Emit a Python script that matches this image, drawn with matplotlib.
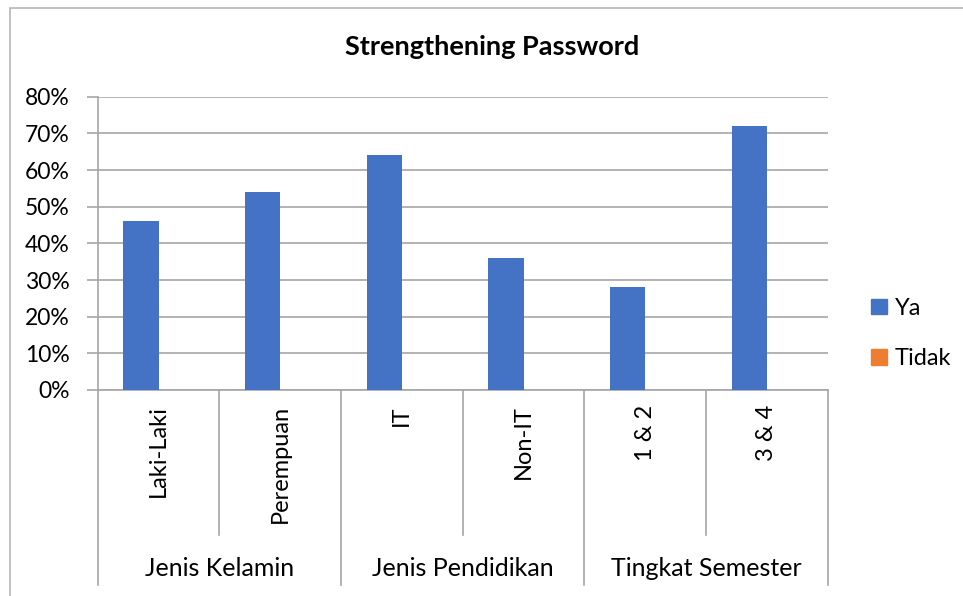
import matplotlib.pyplot as plt
import matplotlib.patches as mpatches
import numpy as np

plt.rcParams['font.family'] = ['Lato', 'DejaVu Sans']

title = 'Strengthening Password'
categories = ['Laki-Laki', 'Perempuan', 'IT', 'Non-IT', '1 & 2', '3 & 4']
groups = ['Jenis Kelamin', 'Jenis Pendidikan', 'Tingkat Semester']
group_sizes = [2, 2, 2]
ya = [0.46, 0.54, 0.64, 0.36, 0.28, 0.72]
tidak = [0, 0, 0, 0, 0, 0]
yticks = [0, 0.1, 0.2, 0.3, 0.4, 0.5, 0.6, 0.7, 0.8]

blue = '#4472C4'
orange = '#ED7D31'
grid_col = '#a6a6a6'

fig = plt.figure(figsize=(9.63, 5.96), dpi=100)
ax = fig.add_axes([97.7 / 963, 1 - 390 / 596, 730 / 963, 293.3 / 596])

# outer chart border (only left and top are visible in the crop)
fig.patches.append(mpatches.Rectangle((10 / 963, -0.05), 1.1, 1.05 - 8 / 596,
                                      transform=fig.transFigure, fill=False,
                                      edgecolor='#b5b5b5', linewidth=1.2))

x = np.arange(len(categories))
w = 0.29
ax.bar(x - w / 2, ya, w, color=blue, label='Ya', zorder=3)
ax.bar(x + w / 2, tidak, w, color=orange, label='Tidak', zorder=3)

ax.set_xlim(-0.5, len(categories) - 0.5)
ax.set_ylim(0, 0.8)
ax.set_yticks(yticks)
ax.set_yticklabels([f'{int(round(v * 100))}%' for v in yticks], fontsize=16.5)
ax.yaxis.grid(True, color=grid_col, linewidth=1.2, zorder=0)
ax.tick_params(axis='y', length=8, width=1.2, color=grid_col, pad=12)
ax.set_xticks([])
for s in ['top', 'right']:
    ax.spines[s].set_visible(False)
ax.spines['left'].set_color(grid_col)
ax.spines['bottom'].set_color(grid_col)
ax.spines['left'].set_linewidth(1.2)
ax.spines['bottom'].set_linewidth(1.2)

# multi-level category axis
tr = ax.get_xaxis_transform()
inner_bottom = -145 / 293.3
outer_bottom = -195 / 293.3
for i, c in enumerate(categories):
    ax.text(i, -15 / 293.3, c, rotation=90, ha='center', va='top',
            fontsize=17, transform=tr)

start = 0
for g, n in zip(groups, group_sizes):
    left = start - 0.5
    right = start + n - 0.5
    ax.plot([left, left], [0, outer_bottom], color=grid_col, lw=1.2,
            transform=tr, clip_on=False)
    for k in range(1, n):
        ax.plot([left + k, left + k], [0, inner_bottom], color=grid_col, lw=1.2,
                transform=tr, clip_on=False)
    ax.text((left + right) / 2, -179 / 293.3, g, ha='center', va='center',
            fontsize=18, transform=tr)
    start += n
ax.plot([start - 0.5, start - 0.5], [0, outer_bottom], color=grid_col, lw=1.2,
        transform=tr, clip_on=False)

fig.text(492 / 963, 1 - 47 / 596, title, ha='center', va='center',
         fontsize=19.5, fontweight='bold')

handles = [mpatches.Patch(color=blue), mpatches.Patch(color=orange)]
fig.legend(handles, ['Ya', 'Tidak'], loc='center left',
           bbox_to_anchor=(850 / 963, 1 - 333.5 / 596), frameon=False,
           fontsize=17, handlelength=0.65, handleheight=0.65,
           handletextpad=0.35, labelspacing=1.25)

fig.savefig('out.png', dpi=100)
